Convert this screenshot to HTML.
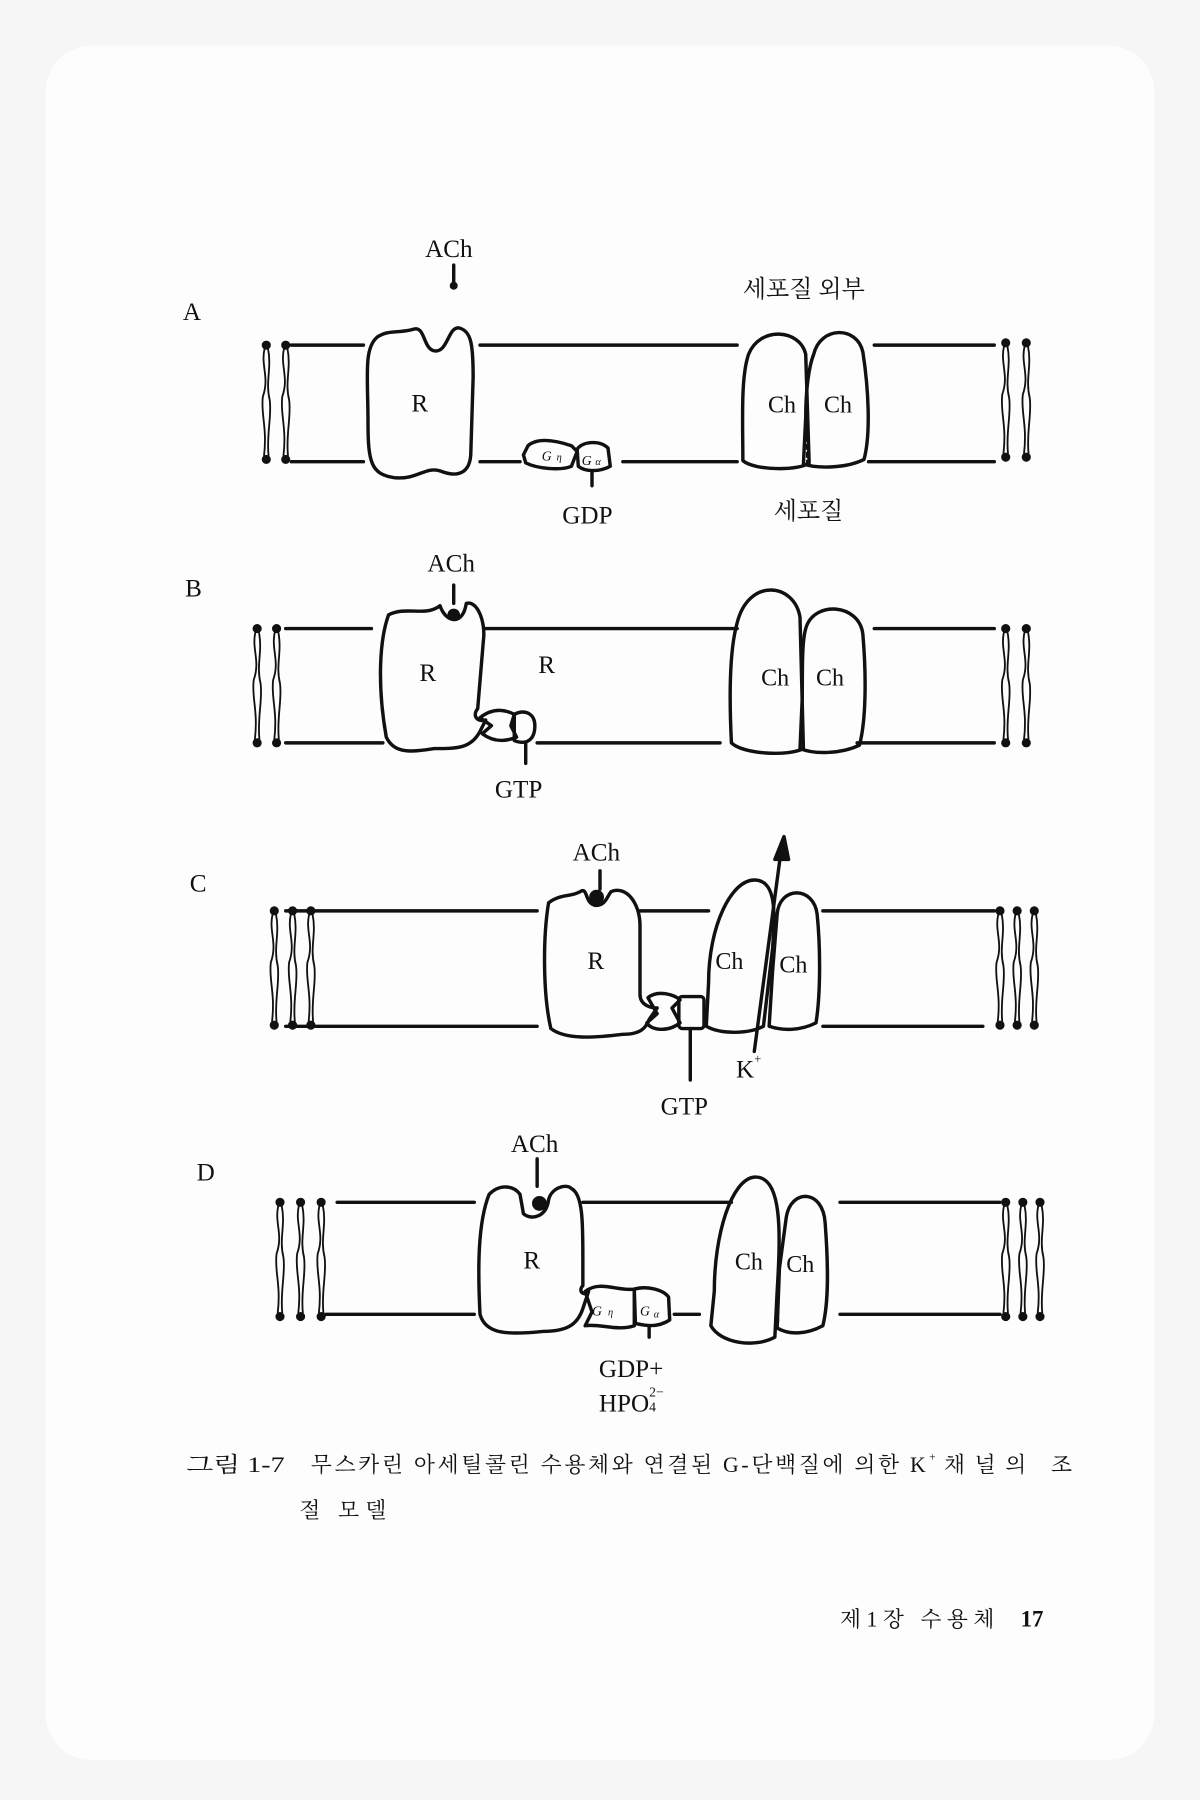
<!DOCTYPE html>
<html><head><meta charset="utf-8"><style>
html,body{margin:0;padding:0;background:#f6f6f6;}
svg{display:block}
text{font-family:"Liberation Serif","Noto Serif CJK SC",serif;fill:#111}
.k{font-family:"Liberation Sans","Noto Sans CJK KR",sans-serif}
</style></head><body>
<svg width="1200" height="1800" viewBox="0 0 1050 1575" xmlns="http://www.w3.org/2000/svg">
<rect x="0" y="0" width="1050" height="1575" fill="#f6f6f6"/>
<rect x="40" y="40" width="970" height="1500" rx="40" fill="#fdfdfd"/>
<defs>
<g id="lip" fill="none" stroke="#111" stroke-width="1.6">
<circle cx="0" cy="0" r="3.2" fill="#111"/>
<circle cx="0" cy="100" r="3.2" fill="#111"/>
<path d="M-1.5,3 C-5,18 3,28 -3,45 C-5,60 1,72 -2,97"/>
<path d="M1.5,3 C5,20 -1,32 3,48 C5,62 0,78 2,97"/>
</g>
</defs>
<g fill="none" stroke="#111" stroke-width="3" stroke-linecap="round" stroke-linejoin="round">
<!-- Panel A -->
<path d="M255,302H318M420,302H645M765,302H870M255,404H318M420,404H455M545,404H645M760,404H870"/>
<path d="M330,295 C340,288 350,292 362,288 C372,285 370,305 380,307 C392,309 392,285 402,287 C412,290 414,300 414,330 L412,395 C412,415 400,418 385,412 C372,408 365,420 345,418 C325,415 322,405 322,370 C322,330 318,305 330,295Z"/>
<path d="M462,390 C470,383 485,385 500,390 L505,395 L500,408 C490,412 470,410 460,405 L458,398 Z"/>
<path d="M505,393 C510,386 525,385 532,392 L534,408 C525,413 512,413 506,408 Z"/>
<path d="M518,412V425"/>
<path d="M655,310 C665,285 700,288 705,310 L708,405 C700,412 660,412 650,403 C650,370 648,330 655,310Z"/>
<path d="M712,310 C718,285 750,285 755,308 C760,340 762,380 756,402 C740,410 715,410 703,406 L705,365 C705,340 708,320 712,310Z"/>
<path d="M706,368V405" stroke-dasharray="4 3" stroke-width="1.6"/>
<path d="M397,232V247"/>
<!-- Panel B -->
<path d="M250,550H325M425,550H645M765,550H870M250,650H335M470,650H630M750,650H870"/>
<path d="M340,538 C355,530 372,540 385,530 C390,545 405,548 408,528 C418,525 425,545 423,560 L418,620 C412,628 420,632 425,630 L420,640 C412,655 400,655 380,655 C360,658 345,660 338,645 C330,600 332,560 340,538Z"/>
<circle cx="397" cy="538" r="4" fill="#111"/>
<path d="M420,628 C430,620 440,620 450,625 L447,635 L452,645 C440,650 430,648 422,642 L430,635 Z"/>
<path d="M450,625 C460,620 468,625 468,635 C468,648 460,652 450,648 Z"/>
<path d="M460,650V668M397,512V528"/>
<path d="M645,545 C655,505 695,510 700,540 L703,655 C690,662 650,660 640,650 C638,610 638,570 645,545Z"/>
<path d="M705,550 C712,525 752,528 755,555 C758,590 758,630 752,652 C735,660 712,660 700,655 L702,610 C702,580 702,560 705,550Z"/>
<path d="M702,615V650" stroke-dasharray="4 3" stroke-width="1.6"/>
<!-- Panel C -->
<path d="M250,797H470M560,797H620M720,797H870M250,898H470M720,898H860"/>
<path d="M480,790 C490,782 500,785 508,780 C514,776 512,790 520,792 C530,794 532,782 535,780 C548,775 560,790 560,810 L560,870 C560,880 570,882 575,882 L568,892 C565,900 560,905 545,905 C520,908 495,910 482,900 C475,870 475,820 480,790Z"/>
<circle cx="522" cy="785" r="5" fill="#111"/>
<path d="M567,873 C575,866 590,870 595,875 L588,882 L595,895 C585,903 570,902 566,895 L575,887 Z"/>
<rect x="594" y="872" width="22" height="28" rx="3"/>
<path d="M604,900V945M525,762V778"/>
<path d="M620,860 C620,810 640,770 660,770 C680,770 678,800 676,830 L668,898 C655,905 630,905 618,898 Z"/>
<path d="M680,800 C682,775 712,775 715,800 C718,830 718,870 714,895 C700,902 685,902 673,898 L676,850 Z"/>
<path d="M660,920 L684,740"/>
<path d="M686,732 L678,752 L690,752 Z" fill="#111"/>
<!-- Panel D -->
<path d="M295,1052H415M510,1052H640M735,1052H875M285,1150H415M590,1150H612M735,1150H875"/>
<path d="M428,1045 C438,1035 450,1038 455,1045 L458,1062 C465,1068 478,1065 480,1050 C482,1040 495,1035 500,1040 C510,1045 510,1070 510,1100 L510,1125 C505,1130 512,1135 515,1130 L510,1145 C505,1160 495,1165 475,1165 C445,1168 425,1168 420,1150 C418,1110 418,1070 428,1045Z"/>
<circle cx="472" cy="1053" r="5" fill="#111"/>
<path d="M512,1130 C525,1120 540,1130 555,1128 L555,1140 L555,1160 C540,1165 525,1158 512,1160 L518,1148 Z"/>
<path d="M555,1128 C565,1125 580,1128 585,1135 L586,1155 C575,1162 565,1160 556,1158 Z"/>
<path d="M568,1160V1170M470,1014V1038"/>
<path d="M625,1130 C625,1080 640,1032 660,1030 C685,1028 683,1080 680,1130 L678,1170 C660,1180 630,1175 622,1160 Z"/>
<path d="M688,1065 C692,1040 720,1040 722,1070 C725,1110 725,1140 720,1160 C705,1168 690,1168 680,1162 L682,1110 Z"/>
<path d="M681,1125V1160" stroke-dasharray="4 3" stroke-width="1.6"/>
</g>
<!-- lipids -->
<use href="#lip" x="233" y="302"/><use href="#lip" x="250" y="302"/>
<use href="#lip" x="880" y="300"/><use href="#lip" x="898" y="300"/>
<use href="#lip" x="225" y="550"/><use href="#lip" x="242" y="550"/>
<use href="#lip" x="880" y="550"/><use href="#lip" x="898" y="550"/>
<use href="#lip" x="240" y="797"/><use href="#lip" x="256" y="797"/><use href="#lip" x="272" y="797"/>
<use href="#lip" x="875" y="797"/><use href="#lip" x="890" y="797"/><use href="#lip" x="905" y="797"/>
<use href="#lip" x="245" y="1052"/><use href="#lip" x="263" y="1052"/><use href="#lip" x="281" y="1052"/>
<use href="#lip" x="880" y="1052"/><use href="#lip" x="895" y="1052"/><use href="#lip" x="910" y="1052"/>
<circle cx="397" cy="250" r="3.5" fill="#111"/>
<!-- labels -->
<g font-size="22">
<text x="160" y="280">A</text>
<text x="372" y="225">ACh</text>
<text x="360" y="360">R</text>
<text x="672" y="361" font-size="21">Ch</text>
<text x="721" y="361" font-size="21">Ch</text>
<text x="492" y="458">GDP</text>
<text x="162" y="522">B</text>
<text x="374" y="500">ACh</text>
<text x="367" y="596">R</text>
<text x="471" y="589">R</text>
<text x="666" y="600" font-size="21">Ch</text>
<text x="714" y="600" font-size="21">Ch</text>
<text x="433" y="698">GTP</text>
<text x="166" y="780">C</text>
<text x="501" y="753">ACh</text>
<text x="514" y="848">R</text>
<text x="626" y="848" font-size="21">Ch</text>
<text x="682" y="851" font-size="21">Ch</text>
<text x="644" y="943">K</text><text x="660" y="930" font-size="11">+</text>
<text x="578" y="975">GTP</text>
<text x="172" y="1033">D</text>
<text x="447" y="1008">ACh</text>
<text x="458" y="1110">R</text>
<text x="643" y="1111" font-size="21">Ch</text>
<text x="688" y="1113" font-size="21">Ch</text>
<text x="524" y="1205">GDP+</text>
<text x="524" y="1235">HPO</text><text x="568" y="1222" font-size="12">2−</text><text x="568" y="1235" font-size="12">4</text>
</g>
<g font-size="12" font-style="italic">
<text x="474" y="403">G</text><text x="487" y="403" font-size="9">η</text>
<text x="509" y="407">G</text><text x="521" y="407" font-size="9">α</text>
<text x="518" y="1151">G</text><text x="532" y="1151" font-size="9">η</text>
<text x="560" y="1151">G</text><text x="572" y="1153" font-size="9">α</text>
</g>
<g class="k" font-size="21">
<text x="650" y="260">세포질 외부</text>
<text x="677" y="454">세포질</text>
</g>
<g class="k" font-size="19">
<text x="163" y="1288" textLength="86" lengthAdjust="spacingAndGlyphs">그림 1-7</text>
<text x="272" y="1288" textLength="538" lengthAdjust="spacing">무스카린 아세틸콜린 수용체와 연결된 G-단백질에 의한 K</text>
<text x="813" y="1278" font-size="10">+</text>
<text x="826" y="1288" textLength="112" lengthAdjust="spacing">채널의 조</text>
<text x="262" y="1328" textLength="76" lengthAdjust="spacing">절 모델</text>
<text x="735" y="1423" textLength="135" lengthAdjust="spacing">제1장  수용체</text>
</g>
<text x="893" y="1423" font-size="20" font-weight="bold">17</text>
</svg>
</body></html>
